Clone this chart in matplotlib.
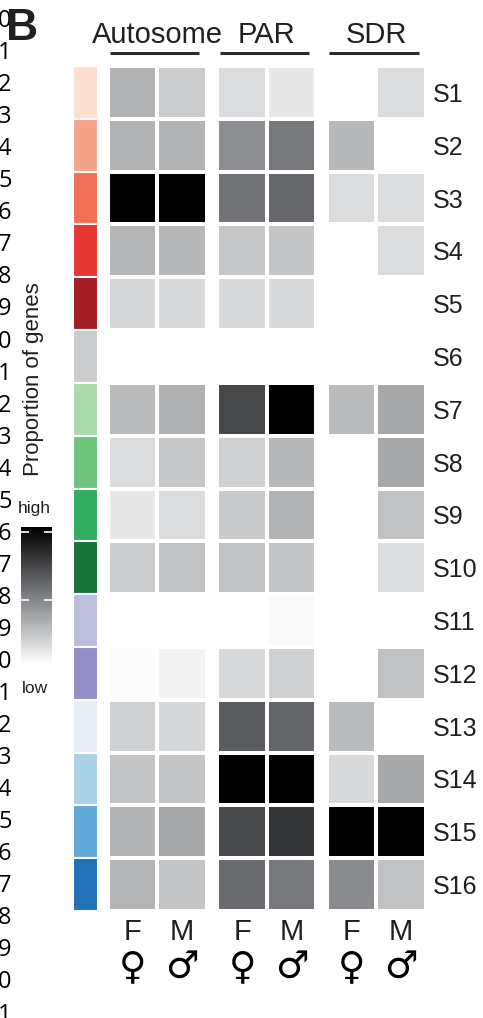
import matplotlib
matplotlib.use('Agg')
import matplotlib.pyplot as plt
import numpy as np
from matplotlib.colors import LinearSegmentedColormap, Normalize
from matplotlib.cm import ScalarMappable
from matplotlib.transforms import blended_transform_factory

nan = np.nan

rows = ['S%d' % i for i in range(1, 17)]
groups = ['Autosome', 'PAR', 'SDR']
sexes = ['F', 'M']
signs = ['\u2640', '\u2642']

side_colors = ['#fddfd2', '#f6a38a', '#f06f57', '#e43731', '#a21c22', '#cbcccd',
               '#abdbab', '#6fc37c', '#31ae61', '#17743a', '#bdbedd', '#938fc6',
               '#e8eef8', '#abd1e6', '#62a9d8', '#2172b8']

# relative proportion of genes (0 = low, 1 = high), nan = none
autosome_f = [0.30, 0.30, 1.00, 0.29, 0.16, nan, 0.27, 0.14, 0.09, 0.20, nan, 0.015, 0.18, 0.235, 0.30, 0.29]
autosome_m = [0.20, 0.30, 1.00, 0.28, 0.145, nan, 0.31, 0.22, 0.14, 0.24, nan, 0.05, 0.16, 0.23, 0.34, 0.23]
par_f = [0.14, 0.44, 0.55, 0.22, 0.145, nan, 0.72, 0.18, 0.21, 0.24, nan, 0.15, 0.64, 1.00, 0.71, 0.58]
par_m = [0.09, 0.53, 0.59, 0.23, 0.145, nan, 1.00, 0.28, 0.30, 0.23, 0.02, 0.18, 0.60, 1.00, 0.79, 0.53]
sdr_f = [nan, 0.28, 0.14, nan, nan, nan, 0.27, nan, nan, nan, nan, nan, 0.27, 0.145, 1.00, 0.45]
sdr_m = [0.14, nan, 0.14, 0.14, nan, nan, 0.34, 0.34, 0.24, 0.14, nan, 0.24, nan, 0.34, 1.00, 0.24]

group_data = [(autosome_f, autosome_m), (par_f, par_m), (sdr_f, sdr_m)]

W, H = 483, 1018
txt = '#231f20'
plt.rcParams['font.family'] = ['Liberation Sans', 'DejaVu Sans']


def fx(px):
    return px / W


def fy(py):
    return 1 - py / H


cmap = LinearSegmentedColormap.from_list('prop', ['#ffffff', '#7d7f83', '#000000'])

fig = plt.figure(figsize=(W / 100, H / 100), dpi=100)
ax = fig.add_axes([fx(73), fy(911), fx(426) - fx(73), fy(66) - fy(911)])

gstep = 2.21
nrow = len(rows)
for g, (f, m) in enumerate(group_data):
    x0 = g * gstep
    C = np.ma.masked_invalid(np.column_stack([f, m]))
    ax.pcolormesh([x0, x0 + 1, x0 + 2], np.arange(nrow + 1), C, cmap=cmap,
                  vmin=0, vmax=1, edgecolors='white', linewidth=1.5)

ax.barh(np.arange(nrow) + 0.5, 0.5, left=-0.7, height=1, color=side_colors,
        edgecolor='white', linewidth=1.5)

ax.set_xlim(-0.7, 2 * gstep + 2)
ax.set_ylim(nrow, 0)
for s in ax.spines.values():
    s.set_visible(False)

ax.yaxis.tick_right()
ax.set_yticks(np.arange(nrow) + 0.5, rows)
ax.tick_params(axis='y', length=0, pad=5, labelsize=18, labelcolor=txt)

xt = [g * gstep + i + 0.5 for g in range(3) for i in range(2)]
ax.set_xticks(xt, sexes * 3)
ax.tick_params(axis='x', length=0, pad=5, labelsize=21, labelcolor=txt)

bl = blended_transform_factory(ax.transData, fig.transFigure)
for x, s in zip(xt, signs * 3):
    ax.text(x, fy(968), s, transform=bl, ha='center', va='center',
            fontsize=27, color='black', family='DejaVu Sans')

# group headers
for g, name in enumerate(groups):
    x0 = g * gstep
    ax.text(x0 + 1, fy(43), name, transform=bl, ha='center', va='baseline',
            fontsize=21, color=txt)
    ax.plot([x0 + 0.05, x0 + 1.85], [fy(53), fy(53)], transform=bl,
            color='#2b2b2b', lw=2.2, clip_on=False, solid_capstyle='butt')

# colour scale
cax = fig.add_axes([fx(21), fy(665), fx(52) - fx(21), fy(527) - fy(665)])
cb = fig.colorbar(ScalarMappable(norm=Normalize(0, 1), cmap=cmap.resampled(64)), cax=cax)
cb.outline.set_visible(False)
cb.set_ticks([0.47, 0.964])
cax.tick_params(direction='in', color='white', left=True, right=True,
                labelleft=False, labelright=False, length=6, width=1.2)
fig.text(fx(34.5), fy(513), 'high', ha='center', va='baseline', fontsize=12.5, color=txt)
fig.text(fx(35), fy(693), 'low', ha='center', va='baseline', fontsize=12.5, color=txt)
fig.text(fx(34), fy(379), 'Proportion of genes', rotation=90, ha='center',
         va='center', fontsize=16, color=txt)

# manuscript line numbers along the left edge
for i in range(32):
    fig.text(fx(-2), fy(27 + 32.05 * i), str(i % 10), ha='left', va='baseline',
             fontsize=17, family='Open Sans', color='black')

fig.text(fx(6), fy(40), 'B', ha='left', va='baseline', fontsize=32,
         fontweight='bold', color=txt)

fig.savefig('out.png', dpi=100)
